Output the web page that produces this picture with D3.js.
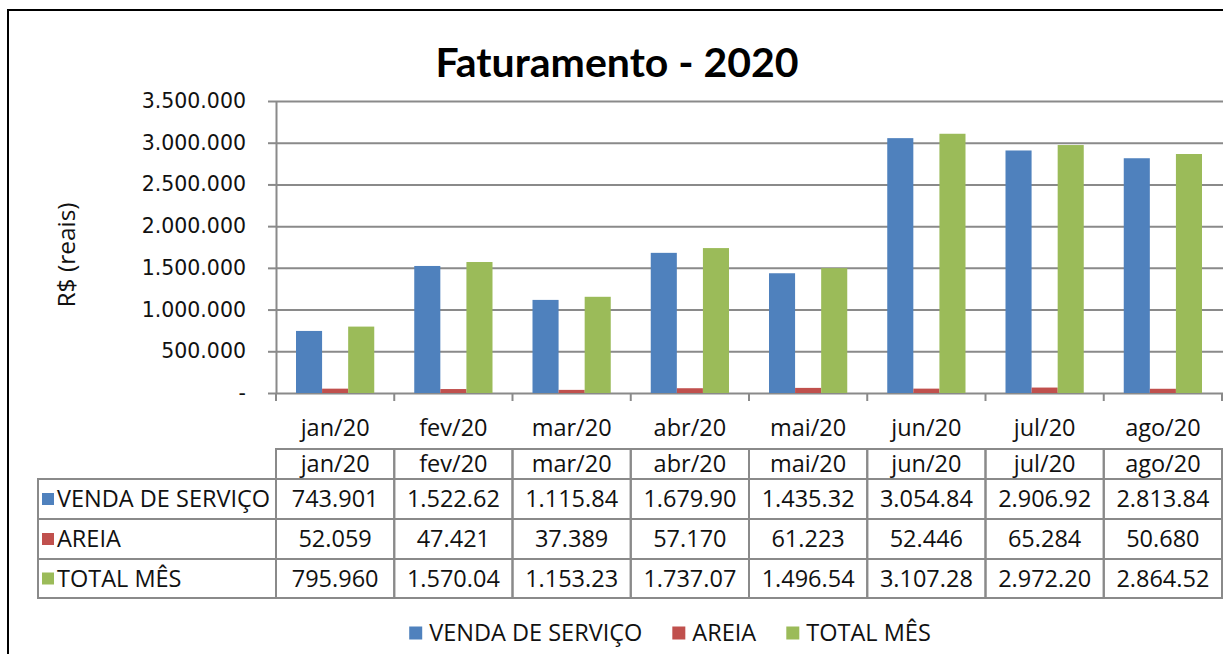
<!DOCTYPE html>
<html>
<head>
<meta charset="utf-8">
<script src="https://cdn.jsdelivr.net/npm/d3@7"></script>
<style>
  body { margin: 0; background: #fff; }
  svg { display: block; }
  .tbl text { font-family: "Open Sans", sans-serif; font-size: 23.5px; fill: #111; }
</style>
</head>
<body>
<div id="chart"></div>
<script>
// data
var months = ["jan/20", "fev/20", "mar/20", "abr/20", "mai/20", "jun/20", "jul/20", "ago/20"];
var seriesNames = ["VENDA DE SERVIÇO", "AREIA", "TOTAL MÊS"];
var vendaServico = [743901, 1522620, 1115840, 1679900, 1435320, 3054840, 2906920, 2813840];
var areia = [52059, 47421, 37389, 57170, 61223, 52446, 65284, 50680];
var totalMes = [795960, 1570040, 1153230, 1737070, 1496540, 3107280, 2972200, 2864520];
var yTicks = [0, 500000, 1000000, 1500000, 2000000, 2500000, 3000000, 3500000];
var colors = ["#4F81BD", "#C0504D", "#9BBB59"];

var allSeries = [vendaServico, areia, totalMes];

var width = 1223, height = 654;
var plot = { left: 276, right: 1222, top: 101, bottom: 393 };

var svg = d3.select("#chart").append("svg")
  .attr("width", width)
  .attr("height", height);

// outer frame
svg.append("rect")
  .attr("x", 8).attr("y", 10)
  .attr("width", 1300).attr("height", 700)
  .attr("fill", "none")
  .attr("stroke", "#000")
  .attr("stroke-width", 2);

var loc = d3.formatLocale({ thousands: ".", decimal: ",", grouping: [3], currency: ["R$", ""] });
var fmt = loc.format(",");

var x = d3.scaleBand().domain(months).range([plot.left, plot.right]);
var x1 = d3.scaleBand().domain(seriesNames).range([20, x.bandwidth() - 20]);
var y = d3.scaleLinear().domain([0, 3500000]).range([plot.bottom, plot.top]);

// title
svg.append("text")
  .attr("x", 617).attr("y", 77)
  .attr("text-anchor", "middle")
  .style("font-family", "Lato, sans-serif")
  .style("font-weight", "bold")
  .style("font-size", "41px")
  .style("fill", "#000")
  .text("Faturamento - 2020");

// y axis title
svg.append("text")
  .attr("transform", "translate(75,255) rotate(-90)")
  .attr("text-anchor", "middle")
  .style("font-family", "Open Sans, sans-serif")
  .style("font-size", "24.5px")
  .style("fill", "#111")
  .text("R$ (reais)");

// gridlines
svg.append("g")
  .attr("transform", "translate(" + plot.left + ",0)")
  .call(d3.axisLeft(y).tickValues(yTicks).tickSize(-(width - plot.left)).tickFormat(""))
  .call(function(g) { g.select(".domain").remove(); })
  .selectAll("line")
  .attr("stroke", "#8a8a8a")
  .attr("stroke-width", 2);

// y axis with labels
var yAxis = svg.append("g")
  .attr("transform", "translate(" + plot.left + ",0)")
  .call(d3.axisLeft(y).tickValues(yTicks).tickSize(8).tickSizeOuter(0).tickPadding(22)
    .tickFormat(function(d) { return d === 0 ? "-" : fmt(d); }));
yAxis.select(".domain").attr("stroke", "#8a8a8a").attr("stroke-width", 2);
yAxis.selectAll("line").attr("stroke", "#8a8a8a").attr("stroke-width", 2);
yAxis.selectAll("text").style("font-family", "DejaVu Sans, sans-serif").style("font-size", "20.5px").attr("fill", "#111");

// bars
var groups = svg.append("g").selectAll("g")
  .data(months)
  .enter().append("g")
  .attr("transform", function(d) { return "translate(" + x(d) + ",0)"; });

groups.selectAll("rect")
  .data(function(d, i) { return seriesNames.map(function(s, k) { return { s: s, k: k, v: allSeries[k][i] }; }); })
  .enter().append("rect")
  .attr("x", function(d) { return x1(d.s); })
  .attr("width", x1.bandwidth())
  .attr("y", function(d) { return y(d.v); })
  .attr("height", function(d) { return plot.bottom - y(d.v); })
  .attr("fill", function(d) { return colors[d.k]; });

// x axis ticks at category boundaries
var bounds = months.map(function(m) { return x(m); }).concat([plot.right]);
svg.append("g").selectAll("line")
  .data(bounds)
  .enter().append("line")
  .attr("x1", function(d) { return d; })
  .attr("x2", function(d) { return d; })
  .attr("y1", plot.bottom)
  .attr("y2", plot.bottom + 8)
  .attr("stroke", "#8a8a8a")
  .attr("stroke-width", 2);

// data table
var tbl = svg.append("g").attr("class", "tbl");
var rowTop = [449, 479, 519, 559];
var rowBottom = 598;
var tableLeft = 38;
var bw = x.bandwidth();

// axis labels row (no borders)
tbl.selectAll(".cat")
  .data(months)
  .enter().append("text")
  .attr("class", "cat")
  .attr("x", function(d) { return x(d) + bw / 2; })
  .attr("y", 428)
  .attr("dy", "0.35em")
  .attr("text-anchor", "middle")
  .text(function(d) { return d; });

// header row cells
tbl.selectAll(".hcell")
  .data(months)
  .enter().append("rect")
  .attr("class", "hcell")
  .attr("x", function(d) { return x(d); })
  .attr("y", rowTop[0])
  .attr("width", bw)
  .attr("height", rowTop[1] - rowTop[0])
  .attr("fill", "none")
  .attr("stroke", "#8a8a8a")
  .attr("stroke-width", 2);

tbl.selectAll(".htext")
  .data(months)
  .enter().append("text")
  .attr("class", "htext")
  .attr("x", function(d) { return x(d) + bw / 2; })
  .attr("y", (rowTop[0] + rowTop[1]) / 2)
  .attr("dy", "0.35em")
  .attr("text-anchor", "middle")
  .text(function(d) { return d; });

// series rows
seriesNames.forEach(function(s, k) {
  var top = rowTop[k + 1];
  var bot = k + 2 < rowTop.length ? rowTop[k + 2] : rowBottom;
  var mid = (top + bot) / 2;

  tbl.append("rect")
    .attr("x", tableLeft).attr("y", top)
    .attr("width", plot.left - tableLeft).attr("height", bot - top)
    .attr("fill", "none").attr("stroke", "#8a8a8a").attr("stroke-width", 2);

  tbl.append("rect")
    .attr("x", 42).attr("y", mid - 6)
    .attr("width", 12).attr("height", 12)
    .attr("fill", colors[k]);

  tbl.append("text")
    .attr("x", 57).attr("y", mid)
    .attr("dy", "0.35em")
    .text(s);

  months.forEach(function(m, i) {
    tbl.append("rect")
      .attr("x", x(m)).attr("y", top)
      .attr("width", bw).attr("height", bot - top)
      .attr("fill", "none").attr("stroke", "#8a8a8a").attr("stroke-width", 2);

    tbl.append("text")
      .attr("x", x(m) + bw / 2).attr("y", mid)
      .attr("dy", "0.35em")
      .attr("text-anchor", "middle")
      .text(fmt(allSeries[k][i]).slice(0, 8)); // cell cuts long numbers like the original
  });
});

// legend
var legend = svg.append("g").attr("class", "tbl");
var items = legend.selectAll("g")
  .data(seriesNames)
  .enter().append("g");
items.append("rect")
  .attr("width", 13).attr("height", 13)
  .attr("y", -6.5)
  .attr("fill", function(d, i) { return colors[i]; });
items.append("text")
  .attr("x", 20)
  .attr("dy", "0.35em")
  .text(function(d) { return d; });

var widths = [];
items.each(function() { widths.push(this.getBBox().width); });
var gap = 30;
var totalW = d3.sum(widths) + gap * (widths.length - 1);
var offset = 670 - totalW / 2;
items.attr("transform", function(d, i) {
  var t = "translate(" + offset + ",633)";
  offset += widths[i] + gap;
  return t;
});
</script>
</body>
</html>
